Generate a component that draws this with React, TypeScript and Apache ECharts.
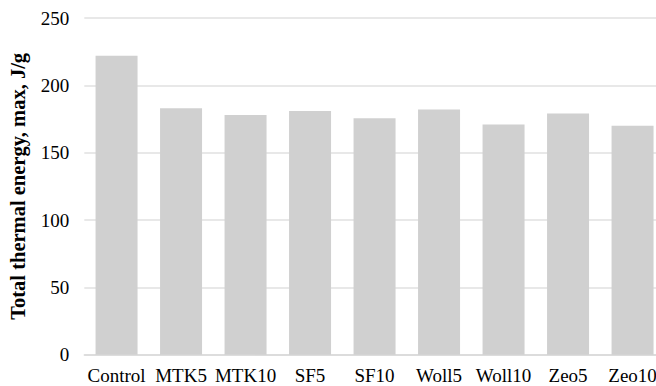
import React, { useEffect, useRef } from "react";
import * as echarts from "echarts";

const categories = ["Control", "MTK5", "MTK10", "SF5", "SF10", "Woll5", "Woll10", "Zeo5", "Zeo10"];
const values = [222, 183, 178, 181, 175.5, 182, 171, 179, 170];
const yTitle = "Total thermal energy, max, J/g";

export default function App() {
  const ref = useRef<HTMLDivElement>(null);
  useEffect(() => {
    if (!ref.current) return;
    const chart = echarts.init(ref.current, null, { renderer: "svg" });
    const font = "'Liberation Serif', 'Times New Roman', serif";
    chart.setOption({
      animation: false,
      backgroundColor: "#ffffff",
      grid: {
        left: 84.3,
        top: 18,
        width: 580.5,
        height: 336.7,
        containLabel: false,
        outerBoundsMode: "none",
      },
      xAxis: {
        type: "category",
        data: categories,
        axisLine: { show: true, lineStyle: { color: "#d9d9d9", width: 1.5 } },
        axisTick: { show: false },
        axisLabel: { color: "#000", fontFamily: font, fontSize: 19, margin: 11, interval: 0 },
      },
      yAxis: {
        type: "value",
        min: 0,
        max: 250,
        interval: 50,
        name: yTitle,
        nameLocation: "middle",
        nameGap: 56,
        nameTextStyle: { color: "#000", fontFamily: font, fontSize: 20.5, fontWeight: "bold" },
        axisLine: { show: false },
        axisTick: { show: false },
        axisLabel: { color: "#000", fontFamily: font, fontSize: 19, margin: 15 },
        splitLine: { show: true, lineStyle: { color: "#e0e0e0", width: 1.5 } },
      },
      series: [
        {
          type: "bar",
          data: values,
          barWidth: 42,
          itemStyle: { color: "#d0d0d0" },
        },
      ],
    });
    return () => chart.dispose();
  }, []);
  return <div ref={ref} style={{ width: 656, height: 386, position: "fixed", left: 0, top: 0 }} />;
}
